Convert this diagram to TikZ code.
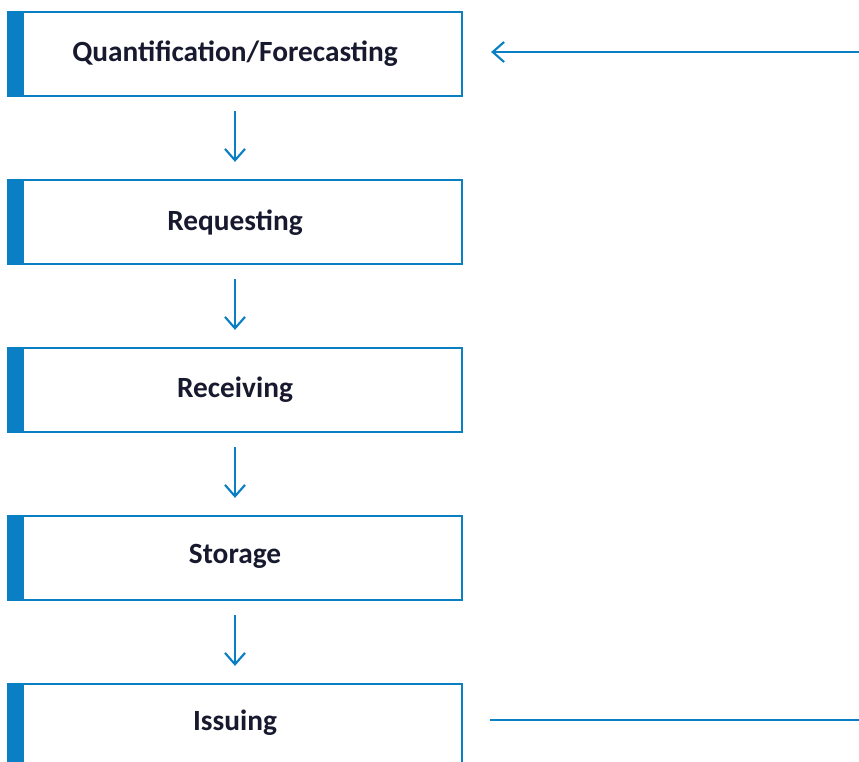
\documentclass[tikz,border=0pt]{standalone}
\usepackage{fontspec}
\setmainfont{Carlito}
\usetikzlibrary{arrows.meta}
\definecolor{blu}{HTML}{0A7FC4}
\definecolor{txt}{HTML}{17192E}
\begin{document}
\begin{tikzpicture}[x=0.75pt,y=-0.75pt,
  stage/.style={draw=blu, line width=1.7pt, minimum width=340.5pt, minimum height=63pt, inner sep=0pt},
  label/.style={text=txt, font=\bfseries\fontsize{22}{26}\selectfont},
  bar/.style={fill=blu},
  flow/.style={draw=blu, line width=1.6pt, -{Straight Barb[length=8.5pt,width=15pt,line width=1.6pt]}},
  flowline/.style={draw=blu, line width=1.7pt}]
\useasboundingbox (0,0) rectangle (859,761);
\clip (0,0) rectangle (859,761);
\node[stage] (q) at (235,54) {};
\node[stage] (r) at (235,222) {};
\node[stage] (v) at (235,390) {};
\node[stage] (s) at (235,558) {};
\node[stage] (i) at (235,726) {};
\foreach \n in {q,r,v,s,i}{
  \fill[bar] (\n.north west) rectangle ([xshift=12.75pt]\n.south west);
}
\node[label] (qt) at (235,54) {Quantification/Forecasting};
\node[label] (rt) at (235,223) {Requesting};
\node[label] (vt) at (235,390) {Receiving};
\node[label] (st) at (235,556) {Storage};
\node[label] (it) at (235,723) {Issuing};
\draw[flow, shorten <=10.5pt, shorten >=12.75pt] (q.south) -- (r.north);
\draw[flow, shorten <=10.5pt, shorten >=12.75pt] (r.south) -- (v.north);
\draw[flow, shorten <=10.5pt, shorten >=12.75pt] (v.south) -- (s.north);
\draw[flow, shorten <=10.5pt, shorten >=12.75pt] (s.south) -- (i.north);
\coordinate (inc) at (859,52);
\coordinate (outc) at (859,720);
\draw[flow, shorten >=21pt] (inc) -- (q.east |- inc);
\draw[flowline, shorten <=20.25pt] (i.east |- outc) -- (outc);
\end{tikzpicture}
\end{document}
